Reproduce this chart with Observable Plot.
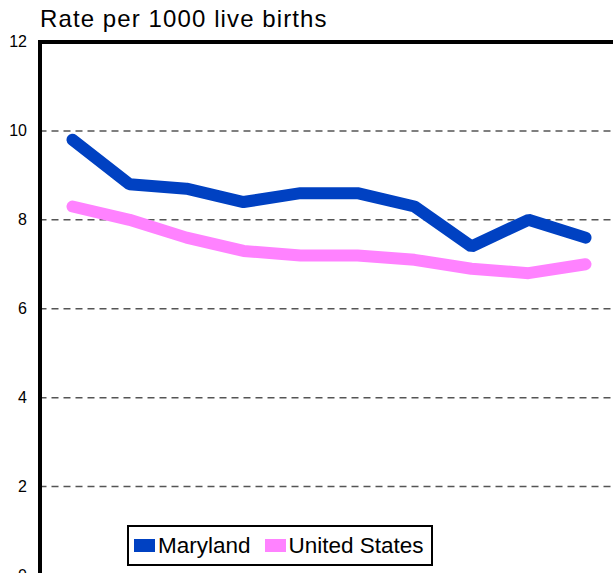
<!DOCTYPE html>
<html>
<head>
<meta charset="utf-8">
<script src="https://cdn.jsdelivr.net/npm/d3@7"></script>
<script src="https://cdn.jsdelivr.net/npm/@observablehq/plot@0.6"></script>
<style>
  html, body { margin: 0; padding: 0; background: white; overflow: hidden; }
  #wrap { position: relative; width: 613px; height: 573px; font-family: "Liberation Sans", Arial, sans-serif; }
  #title { position: absolute; left: 40px; top: 5px; font-size: 24px; line-height: 28px; letter-spacing: 1.1px; color: #000; white-space: nowrap; }
  #legend { position: absolute; left: 127px; top: 525px; width: 297px; height: 37px; border: 2px solid #000; background: #fff;
            display: flex; align-items: center; padding-left: 5px; font-size: 22.5px; color: #000; box-sizing: content-box; white-space: nowrap; }
  .item { display: flex; align-items: center; margin-right: 14px; white-space: nowrap; flex: none; }
  .sw { width: 21px; height: 13px; margin-right: 3px; flex: none; }
</style>
</head>
<body>
<div id="wrap">
  <div id="chart"></div>
  <div id="title"></div>
  <div id="legend"></div>
</div>
<script>
const titleText = "Rate per 1000 live births";
const years = [1993, 1994, 1995, 1996, 1997, 1998, 1999, 2000, 2001, 2002];
const seriesNames = ["Maryland", "United States"];
const seriesColors = ["#0041C2", "#FF82FF"];
const maryland = [9.8, 8.8, 8.7, 8.4, 8.6, 8.6, 8.3, 7.4, 8.0, 7.6];
const unitedStates = [8.3, 8.0, 7.6, 7.3, 7.2, 7.2, 7.1, 6.9, 6.8, 7.0];
const yTicks = [0, 2, 4, 6, 8, 10, 12];
const gridValues = [2, 4, 6, 8, 10];

const data = [];
years.forEach((yr, i) => {
  data.push({year: yr, rate: maryland[i], series: seriesNames[0]});
});
years.forEach((yr, i) => {
  data.push({year: yr, rate: unitedStates[i], series: seriesNames[1]});
});

const chart = Plot.plot({
  width: 613,
  height: 573,
  marginTop: 41.5,
  marginBottom: -2,
  marginLeft: 39.5,
  marginRight: -4,
  style: {fontFamily: "'Liberation Sans', Arial, sans-serif", background: "white", overflow: "visible"},
  x: {type: "point", domain: years, padding: 0.5, axis: null},
  y: {domain: [0, 12], axis: null},
  color: {domain: seriesNames, range: seriesColors},
  marks: [
    Plot.ruleY(gridValues, {stroke: "#555", strokeWidth: 1.5, strokeDasharray: "7,5"}),
    Plot.axisY({ticks: yTicks, tickSize: 0, tickPadding: 13, fontSize: 16, fill: "#000", label: null, tickFormat: d => String(d)}),
    Plot.line(data, {x: "year", y: "rate", z: "series", stroke: "series", strokeWidth: 12, strokeLinecap: "round", strokeLinejoin: "miter"}),
    Plot.ruleY([12], {stroke: "#000", strokeWidth: 4}),
    Plot.frame({anchor: "left", stroke: "#000", strokeWidth: 4})
  ]
});
document.getElementById("chart").appendChild(chart);
document.getElementById("title").textContent = titleText;

const legend = document.getElementById("legend");
seriesNames.forEach((name, i) => {
  const item = document.createElement("div");
  item.className = "item";
  const sw = document.createElement("div");
  sw.className = "sw";
  sw.style.background = seriesColors[i];
  const label = document.createElement("span");
  label.textContent = name;
  item.appendChild(sw);
  item.appendChild(label);
  legend.appendChild(item);
});
</script>
</body>
</html>
